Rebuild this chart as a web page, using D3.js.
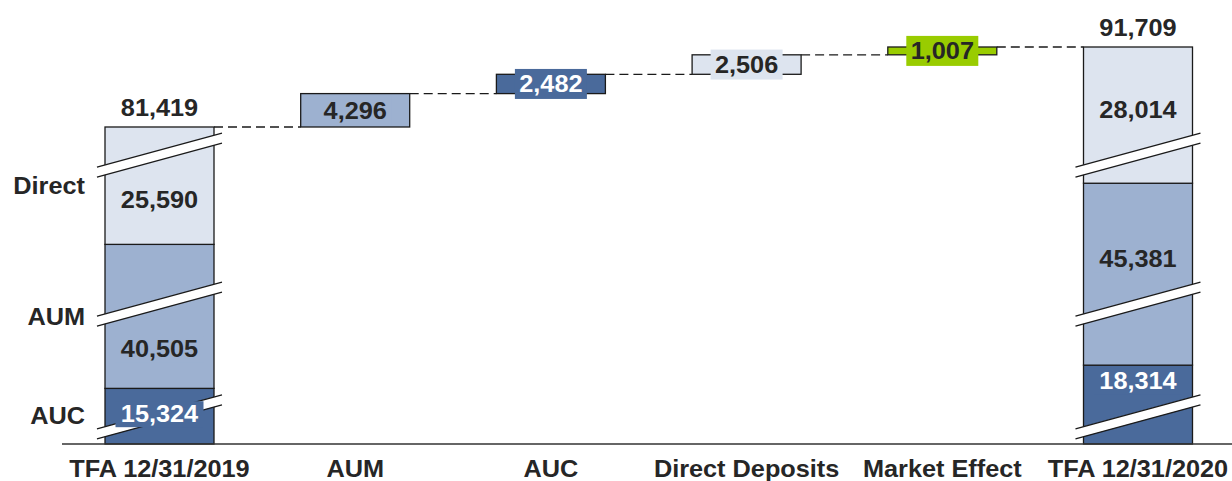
<!DOCTYPE html>
<html><head><meta charset="utf-8">
<script src="https://cdn.jsdelivr.net/npm/d3@7"></script>
<style>html,body{margin:0;padding:0;background:#fff;}svg{display:block;font-family:"Liberation Sans",Arial,sans-serif;}</style>
</head><body>
<svg id="chart" width="1232" height="481"></svg>
<script>
const categories = ["TFA 12/31/2019","AUM","AUC","Direct Deposits","Market Effect","TFA 12/31/2020"];
const segmentNames = ["AUC","AUM","Direct"];
const startValues = [15324, 40505, 25590];
const endValues = [18314, 45381, 28014];
const startTotal = 81419;
const endTotal = 91709;
const changeNames = ["AUM","AUC","Direct Deposits","Market Effect"];
const changeValues = [4296, 2482, 2506, 1007];
// amount of value skipped by each axis break (per segment) and where breaks are drawn (display units)
const breakHidden = [8170, 21980, 10490];
const breakLevels = [3500, 18000, 37170];

const fmt = d3.format(",");
const segColor = {AUC:"#4a6a9b", AUM:"#9db1d0", Direct:"#dde4ef"};
const changeColor = ["#9db1d0","#4a6a9b","#dde4ef","#99cc00"];
const changeText = ["#262626","#ffffff","#262626","#262626"];
const segText = {AUC:"#ffffff", AUM:"#262626", Direct:"#262626"};
const ink = "#262626";
const FS = 23, SX = 1.1;

const svg = d3.select("#chart");
const totalHidden = d3.sum(breakHidden);
const y = d3.scaleLinear().domain([0, endTotal - totalHidden]).range([444, 47]);
const x = d3.scalePoint().domain(categories).range([159.5, 1138]);
const barW = 109;

function label(g, tx, ty, txt, fill, anchor, dy){
  g.append("text").attr("transform",`translate(${tx},${ty}) scale(${SX},1)`)
    .attr("dy",dy||0).attr("text-anchor",anchor||"middle")
    .attr("font-size",FS).attr("font-weight","bold").attr("fill",fill).text(txt);
}

function stacked(cat, vals, total){
  const cx = x(cat), x0 = cx - barW/2;
  const g = svg.append("g");
  let cum = 0, hid = 0;
  const segs = [];
  vals.forEach((v,i)=>{
    const yb = y(cum - hid);
    cum += v; hid += breakHidden[i];
    const yt = y(cum - hid);
    segs.push({name:segmentNames[i], v, yb, yt});
    g.append("rect").attr("x",x0).attr("y",yt).attr("width",barW).attr("height",yb-yt)
      .attr("fill",segColor[segmentNames[i]]).attr("stroke","#1a1a1a").attr("stroke-width",1.3);
  });
  const rise = (barW+16)*0.136;
  breakLevels.forEach(L=>{
    const yc = y(L);
    const xl = x0-8, xr = x0+barW+8;
    g.append("polygon")
      .attr("points",[[xl,yc+rise-5],[xr,yc-rise-5],[xr,yc-rise+5],[xl,yc+rise+5]].map(p=>p.join(",")).join(" "))
      .attr("fill","#fff");
    [-5,5].forEach(o=>{
      g.append("line").attr("x1",xl).attr("y1",yc+rise+o).attr("x2",xr).attr("y2",yc-rise+o)
        .attr("stroke","#1a1a1a").attr("stroke-width",1.3);
    });
  });
  // segment labels: kept clear of the break, inside the segment, on a box of the segment colour
  segs.forEach((s,i)=>{
    const yc = y(breakLevels[i]);
    const mid = (s.yt + s.yb)/2;
    let ly;
    if (Math.abs(mid - yc) < 10) ly = mid - 2;
    else {
      ly = mid < yc ? yc - 45 : yc + 45;
      ly = Math.max(s.yt + 16, Math.min(s.yb - 16, ly));
    }
    g.append("rect").attr("x",cx-44).attr("y",ly-13).attr("width",88).attr("height",26)
      .attr("fill",segColor[s.name]);
    label(g, cx, ly, fmt(s.v), segText[s.name], "middle", "0.36em");
  });
  label(g, cx, y(total-totalHidden)-11, fmt(total), ink);
  return segs;
}

// connectors
const levels = [startTotal];
changeValues.forEach(v=>levels.push(levels[levels.length-1]+v));
levels[levels.length-1] = endTotal;
for(let i=0;i<categories.length-1;i++){
  svg.append("line")
    .attr("x1",x(categories[i])+barW/2).attr("x2",x(categories[i+1])-barW/2)
    .attr("y1",y(levels[i]-totalHidden)).attr("y2",y(levels[i]-totalHidden))
    .attr("stroke","#1a1a1a").attr("stroke-width",1.3).attr("stroke-dasharray","9,5");
}

const leftSegs = stacked(categories[0], startValues, startTotal);
stacked(categories[5], endValues, endTotal);

// floating change bars
let base = startTotal;
changeValues.forEach((v,i)=>{
  const cx = x(changeNames[i]);
  const yb = y(base - totalHidden), yt = y(base + v - totalHidden);
  base += v;
  svg.append("rect").attr("x",cx-barW/2).attr("y",yt).attr("width",barW).attr("height",yb-yt)
    .attr("fill",changeColor[i]).attr("stroke","#1a1a1a").attr("stroke-width",1.3);
  const ym = (yt+yb)/2;
  svg.append("rect").attr("x",cx-36).attr("y",ym-15).attr("width",72).attr("height",30).attr("fill",changeColor[i]);
  label(svg, cx, ym, fmt(v), changeText[i], "middle", "0.36em");
});

// baseline
svg.append("line").attr("x1",62).attr("x2",1232).attr("y1",444).attr("y2",444)
  .attr("stroke","#333").attr("stroke-width",1.5);

// category labels
categories.forEach(c=> label(svg, x(c), 477, c, ink));

// segment names on the left
leftSegs.forEach(s=> label(svg, 85, (s.yt+s.yb)/2, s.name, ink, "end", "0.36em"));
</script>
</body></html>
